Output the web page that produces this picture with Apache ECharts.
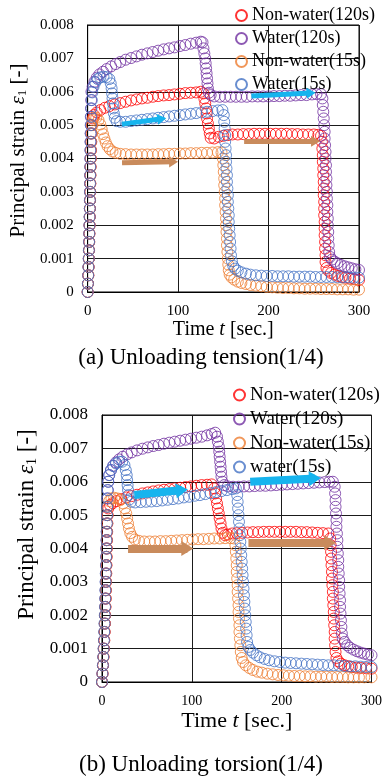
<!DOCTYPE html>
<html>
<head>
<meta charset="utf-8">
<script src="https://cdn.jsdelivr.net/npm/echarts@6.0.0/dist/echarts.min.js"></script>
<style>
  html, body { margin: 0; padding: 0; background: #fff; }
  #chart { width: 385px; height: 778px; }
</style>
</head>
<body>
<div id="chart"></div>
<script>
// strain values are in units of 1e-3, time in seconds
const xTicks = [0, 100, 200, 300]
const names = ['Non-water(120s)', 'Water(120s)', 'Non-water(15s)', 'Water(15s)']
const namesB = ['Non-water(120s)', 'Water(120s)', 'Non-water(15s)', 'water(15s)']
const captions = ['(a) Unloading tension(1/4)', '(b) Unloading torsion(1/4)']

// (a) Unloading tension
const aNonWater120 = [[0,0],[0.4,0.25],[0.8,0.5],[1.1,0.75],[1.4,1.0],[1.6,1.25],[1.8,1.5],[2.0,1.75],[2.2,2.0],[2.4,2.25],[2.6,2.5],[2.7,2.75],[2.9,3.0],[3.0,3.25],[3.1,3.5],[3.3,3.75],[3.5,4.0],[3.7,4.25],[4.0,4.5],[4.3,4.75],[4.8,5.0],[5.5,5.2],
  [7,5.3],[10,5.38],[14,5.45],[19,5.52],[24,5.57],[30,5.62],[36,5.66],[42,5.7],[48,5.74],[54,5.77],[60,5.8],[66,5.82],[72,5.85],[78,5.87],[84,5.89],[90,5.9],[96,5.92],[102,5.94],[108,5.96],[114,5.97],[120,5.98],[125,6.0],
  [128,5.95],[129,5.8],[130,5.65],[131,5.5],[131.5,5.35],[132,5.2],[133,5.05],[134,4.9],[135,4.75],[136,4.62],
  [140,4.6],[145,4.65],[150,4.68],[155,4.7],[160,4.72],[166,4.72],[172,4.73],[178,4.73],[184,4.74],[190,4.74],[196,4.74],[202,4.74],[208,4.74],[214,4.74],[220,4.74],[226,4.73],[232,4.73],[238,4.72],[244,4.72],[250,4.72],[255,4.71],[258,4.68],
  [259,4.5],[259.5,4.3],[260,4.1],[260,3.9],[260.5,3.7],[260.5,3.5],[261,3.3],[261,3.1],[261,2.9],[261.5,2.7],[261.5,2.5],[261.5,2.3],[262,2.1],[262,1.9],[262,1.7],[262.5,1.5],[262.5,1.3],[263,1.1],[263,0.9],[264,0.72],
  [266,0.64],[269,0.57],[273,0.52],[277,0.48],[281,0.45],[285,0.43],[290,0.4],[295,0.38],[300,0.36]]
const aWater120 = [[0,0],[0.3,0.25],[0.6,0.5],[0.9,0.75],[1.2,1.0],[1.4,1.25],[1.6,1.5],[1.8,1.75],[2.0,2.0],[2.2,2.25],[2.4,2.5],[2.5,2.75],[2.6,3.0],[2.7,3.25],[2.8,3.5],[2.9,3.75],[3.0,4.0],[3.1,4.25],[3.2,4.5],[3.3,4.75],[3.4,5.0],[3.5,5.25],[3.7,5.5],[3.9,5.75],[4.2,6.0],
  [5.5,6.15],[7.5,6.3],[10,6.42],[13,6.52],[17,6.6],[21,6.68],[26,6.76],[31,6.83],[36,6.89],[42,6.96],[48,7.01],[54,7.06],[60,7.11],[66,7.15],[72,7.19],[78,7.23],[84,7.27],[90,7.3],[96,7.33],[102,7.37],[108,7.4],[114,7.44],[120,7.47],[125,7.5],[127,7.48],
  [128,7.3],[129,7.15],[130,7.0],[130.5,6.85],[131,6.7],[131.5,6.55],[132,6.4],[132.5,6.25],[133,6.1],[134,5.97],[136,5.9],
  [140,5.86],[146,5.85],[152,5.85],[158,5.85],[164,5.85],[170,5.85],[176,5.85],[182,5.86],[188,5.86],[194,5.86],[200,5.86],[206,5.87],[212,5.87],[218,5.88],[224,5.88],[230,5.89],[236,5.9],[242,5.9],[248,5.92],[253,5.93],[258,5.93],
  [259.5,5.8],[260,5.6],[260.5,5.4],[261,5.2],[261.5,5.0],[262,4.8],[262,4.6],[262.5,4.4],[263,4.2],[263,4.0],[263.5,3.8],[263.5,3.6],[264,3.4],[264,3.2],[264.5,3.0],[264.5,2.8],[265,2.6],[265,2.4],[265.5,2.2],[265.5,2.0],[266,1.8],[266,1.6],[266.5,1.4],[267,1.2],[268,1.05],
  [270,0.97],[273,0.91],[276,0.86],[280,0.81],[284,0.77],[288,0.74],[292,0.71],[296,0.68],[300,0.66]]
const aNonWater15 = [[0,0],[0.4,0.25],[0.7,0.5],[1.0,0.75],[1.3,1.0],[1.5,1.25],[1.7,1.5],[1.9,1.75],[2.1,2.0],[2.3,2.25],[2.5,2.5],[2.6,2.75],[2.8,3.0],[2.9,3.25],[3.0,3.5],[3.2,3.75],[3.4,4.0],[3.6,4.25],[3.9,4.5],[4.2,4.75],[4.6,5.0],[5.5,5.15],
  [7,5.22],[9.5,5.22],[12,5.15],[14,5.02],[15.5,4.88],[17,4.73],[18.5,4.6],[20,4.48],[22,4.37],[24.5,4.28],[27.5,4.21],[31,4.17],
  [36,4.14],[42,4.13],[48,4.12],[54,4.12],[60,4.12],[66,4.12],[72,4.12],[78,4.13],[84,4.13],[90,4.14],[96,4.14],[102,4.15],[108,4.15],[114,4.16],[120,4.16],[126,4.17],[132,4.17],[138,4.18],[144,4.19],[148,4.18],
  [149.5,4.0],[150,3.8],[150.5,3.6],[151,3.4],[151,3.2],[151.5,3.0],[152,2.8],[152,2.6],[152.5,2.4],[153,2.2],[153,2.0],[153.5,1.8],[154,1.6],[154,1.4],[154.5,1.2],[155,1.0],[155.5,0.82],[156,0.65],[157,0.52],
  [159,0.44],[162,0.37],[166,0.31],[170,0.27],[175,0.24],[180,0.21],[186,0.19],[192,0.17],[198,0.15],[204,0.14],[210,0.13],[216,0.12],[222,0.12],[228,0.11],[234,0.11],[240,0.1],[246,0.1],[252,0.1],[258,0.09],[264,0.09],[270,0.09],[276,0.08],[282,0.08],[288,0.08],[294,0.07],[300,0.07]]
const aWater15 = [[0,0],[0.3,0.25],[0.6,0.5],[0.9,0.75],[1.2,1.0],[1.4,1.25],[1.6,1.5],[1.8,1.75],[2.0,2.0],[2.2,2.25],[2.4,2.5],[2.5,2.75],[2.6,3.0],[2.7,3.25],[2.8,3.5],[2.9,3.75],[3.0,4.0],[3.1,4.25],[3.3,4.5],[3.5,4.75],[3.7,5.0],[3.9,5.25],[4.2,5.5],[4.6,5.75],[5.2,5.98],
  [6.5,6.15],[8.5,6.28],[11,6.38],[14,6.43],[17.5,6.45],[21,6.44],[24,6.38],
  [25.5,6.25],[26.5,6.1],[27,5.95],[27.5,5.8],[28,5.65],[28.5,5.5],[29,5.35],[30,5.22],[32,5.12],
  [36,5.1],[42,5.1],[48,5.12],[54,5.14],[60,5.16],[66,5.18],[72,5.2],[78,5.22],[84,5.24],[90,5.26],[96,5.28],[102,5.3],[108,5.32],[114,5.34],[120,5.36],[126,5.38],[132,5.4],[138,5.42],[144,5.44],[149,5.45],
  [150.5,5.3],[151,5.1],[151.5,4.9],[152,4.7],[152,4.5],[152.5,4.3],[153,4.1],[153,3.9],[153.5,3.7],[154,3.5],[154,3.3],[154.5,3.1],[155,2.9],[155,2.7],[155.5,2.5],[156,2.3],[156,2.1],[156.5,1.9],[157,1.7],[157.5,1.5],[158,1.3],[158.5,1.1],[159.5,0.92],[161,0.78],
  [163,0.7],[166,0.64],[170,0.59],[175,0.55],[180,0.52],[186,0.5],[192,0.49],[198,0.48],[204,0.48],[210,0.47],[216,0.47],[222,0.47],[228,0.46],[234,0.46],[240,0.46],[246,0.46],[252,0.45],[258,0.45],[264,0.45],[270,0.45],[276,0.44],[282,0.44],[288,0.44],[294,0.43],[300,0.43]]

// (b) Unloading torsion
const bNonWater120 = [[0,0],[0.6,0.25],[1.2,0.5],[1.7,0.75],[2.2,1.0],[2.6,1.25],[3.0,1.5],[3.3,1.75],[3.6,2.0],[3.9,2.25],[4.2,2.5],[4.4,2.75],[4.6,3.0],[4.8,3.25],[5.0,3.5],[5.2,3.75],[5.4,4.0],[5.6,4.25],[5.8,4.5],[6.0,4.75],[6.3,5.0],[7,5.2],
  [9,5.3],[12,5.36],[16,5.42],[21,5.48],[27,5.53],[33,5.57],[39,5.61],[45,5.65],[51,5.68],[57,5.71],[63,5.74],[69,5.76],[75,5.78],[81,5.8],[87,5.82],[93,5.84],[99,5.86],[105,5.88],[111,5.9],[117,5.91],[122,5.92],
  [125,5.8],[126,5.65],[127,5.5],[128,5.35],[129,5.2],[130,5.05],[131,4.9],[132,4.75],[133,4.6],[134.5,4.47],[137,4.4],
  [140,4.42],[145,4.45],[150,4.46],[156,4.47],[162,4.48],[168,4.49],[174,4.49],[180,4.5],[186,4.5],[192,4.5],[198,4.5],[204,4.5],[210,4.5],[216,4.5],[222,4.49],[228,4.49],[234,4.48],[240,4.47],[246,4.46],[252,4.45],
  [254,4.3],[254.5,4.1],[255,3.9],[255,3.7],[255.5,3.5],[256,3.3],[256,3.1],[256.5,2.9],[257,2.7],[257,2.5],[257.5,2.3],[258,2.1],[258,1.9],[258.5,1.7],[259,1.5],[259,1.3],[259.5,1.1],[260,0.9],[261,0.72],
  [263,0.62],[266,0.55],[270,0.5],[274,0.47],[278,0.45],[283,0.43],[288,0.42],[294,0.41],[300,0.4]]
const bWater120 = [[0,0],[0.5,0.25],[1.0,0.5],[1.5,0.75],[1.9,1.0],[2.3,1.25],[2.7,1.5],[3.0,1.75],[3.3,2.0],[3.6,2.25],[3.8,2.5],[4.0,2.75],[4.2,3.0],[4.4,3.25],[4.6,3.5],[4.8,3.75],[5.0,4.0],[5.2,4.25],[5.4,4.5],[5.6,4.75],[5.8,5.0],[6.0,5.25],[6.2,5.5],[6.5,5.75],[7,6.0],
  [8,6.2],[10,6.35],[12.5,6.48],[15.5,6.58],[19,6.67],[23,6.75],[28,6.82],[33,6.88],[39,6.94],[45,6.99],[51,7.03],[57,7.07],[63,7.1],[69,7.14],[75,7.17],[81,7.2],[87,7.23],[93,7.26],[99,7.29],[105,7.32],[111,7.35],[117,7.39],[122,7.43],[126,7.47],
  [128,7.35],[129,7.2],[130,7.05],[130.5,6.9],[131,6.75],[131.5,6.6],[132,6.45],[132.5,6.3],[133,6.15],[134,6.0],[136,5.9],
  [140,5.86],[146,5.85],[152,5.85],[158,5.86],[164,5.86],[170,5.87],[176,5.88],[182,5.88],[188,5.89],[194,5.9],[200,5.91],[206,5.92],[212,5.93],[218,5.94],[224,5.95],[230,5.96],[236,5.97],[242,5.98],[248,5.99],[253,6.0],[257,6.0],
  [259,5.85],[259.5,5.65],[260,5.45],[260,5.25],[260.5,5.05],[261,4.85],[261,4.65],[261.5,4.45],[262,4.25],[262,4.05],[262.5,3.85],[263,3.65],[263,3.45],[263.5,3.25],[264,3.05],[264,2.85],[264.5,2.65],[265,2.45],[265,2.25],[265.5,2.05],[266,1.85],[266.5,1.65],[267,1.45],[268,1.3],
  [270,1.2],[273,1.1],[276,1.03],[280,0.97],[284,0.92],[288,0.88],[292,0.85],[296,0.82],[300,0.8]]
const bNonWater15 = [[0,0],[0.6,0.25],[1.1,0.5],[1.6,0.75],[2.0,1.0],[2.4,1.25],[2.8,1.5],[3.1,1.75],[3.4,2.0],[3.7,2.25],[4.0,2.5],[4.2,2.75],[4.4,3.0],[4.6,3.25],[4.8,3.5],[5.0,3.75],[5.2,4.0],[5.4,4.25],[5.6,4.5],[5.8,4.75],[6.1,5.0],[6.6,5.25],
  [8,5.42],[10.5,5.5],[13.5,5.52],[17,5.5],[20.5,5.45],[23.5,5.35],[25.5,5.2],[27,5.05],[28,4.9],[29,4.75],[30,4.6],[31.5,4.46],[33.5,4.35],[36.5,4.27],
  [41,4.23],[47,4.21],[53,4.21],[59,4.21],[65,4.22],[71,4.22],[77,4.23],[83,4.24],[89,4.25],[95,4.26],[101,4.27],[107,4.28],[113,4.28],[119,4.29],[125,4.3],[131,4.3],[137,4.31],[143,4.31],[147,4.3],
  [148.5,4.1],[149,3.9],[149.5,3.7],[150,3.5],[150,3.3],[150.5,3.1],[151,2.9],[151,2.7],[151.5,2.5],[152,2.3],[152,2.1],[152.5,1.9],[153,1.7],[153,1.5],[153.5,1.3],[154,1.1],[154.5,0.9],[155.5,0.72],[157,0.6],
  [160,0.5],[164,0.42],[168,0.36],[173,0.31],[178,0.28],[184,0.25],[190,0.23],[196,0.21],[202,0.2],[208,0.19],[214,0.18],[220,0.18],[226,0.17],[232,0.17],[238,0.16],[244,0.16],[250,0.16],[256,0.15],[262,0.15],[268,0.15],[274,0.14],[280,0.14],[286,0.14],[292,0.14],[300,0.14]]
const bWater15 = [[0,0],[0.5,0.25],[1.0,0.5],[1.4,0.75],[1.8,1.0],[2.2,1.25],[2.5,1.5],[2.8,1.75],[3.1,2.0],[3.4,2.25],[3.6,2.5],[3.8,2.75],[4.0,3.0],[4.2,3.25],[4.4,3.5],[4.6,3.75],[4.8,4.0],[5.0,4.25],[5.2,4.5],[5.4,4.75],[5.6,5.0],[5.8,5.25],[6.0,5.5],[6.3,5.75],[6.8,6.0],
  [8,6.2],[10,6.35],[12.5,6.47],[15.5,6.55],[19,6.6],[22.5,6.6],[25,6.5],
  [26.5,6.35],[27.5,6.2],[28,6.05],[28.5,5.9],[29,5.75],[29.5,5.6],[30.5,5.47],[32.5,5.4],
  [37,5.38],[43,5.39],[49,5.4],[55,5.41],[61,5.42],[67,5.44],[73,5.46],[79,5.48],[85,5.5],[91,5.53],[97,5.55],[103,5.58],[109,5.6],[115,5.63],[121,5.66],[127,5.69],[133,5.72],[139,5.75],[145,5.78],[149,5.8],
  [150.5,5.6],[151,5.4],[151.5,5.2],[152,5.0],[152.5,4.8],[153,4.6],[153.5,4.4],[154,4.2],[154.5,4.0],[155,3.8],[155.5,3.6],[156,3.4],[156.5,3.2],[157,3.0],[157.5,2.8],[158,2.6],[158.5,2.4],[159,2.2],[159.5,2.0],[160,1.8],[160.5,1.6],[161,1.4],[161.5,1.2],[163,1.05],
  [165,0.96],[168,0.88],[172,0.8],[176,0.74],[181,0.69],[186,0.65],[192,0.62],[198,0.6],[204,0.58],[210,0.57],[216,0.56],[222,0.55],[228,0.54],[234,0.53],[240,0.52],[246,0.51],[252,0.5],[258,0.5],[264,0.49],[270,0.48],[276,0.47],[282,0.47],[288,0.46],[294,0.45],[300,0.45]]

// arrows: [tail, tip] in data units
const aArrowsBlue = [[[38, 5.03], [82, 5.19]], [[181, 5.87], [247, 5.96]]]
const aArrowsBrown = [[[38, 3.87], [95, 3.9]], [[173, 4.52], [252, 4.52]]]
const bArrowsBlue = [[[36, 5.6], [89, 5.75]], [[165, 6.0], [237, 6.1]]]
const bArrowsBrown = [[[29, 4.0], [95, 4.0]], [[163, 4.17], [254, 4.17]]]

const colors = ['#ff0000', '#7030a0', '#ed7d31', '#4472c4']
const FONT = '"Liberation Serif", "Times New Roman", serif'

const chart = echarts.init(document.getElementById('chart'), null, { renderer: 'canvas' })

function scatter(name, data, color, idx) {
  return {
    name: name,
    type: 'scatter',
    xAxisIndex: idx,
    yAxisIndex: idx,
    data: data,
    symbol: 'circle',
    symbolSize: 11,
    itemStyle: { color: 'transparent', borderColor: color, borderWidth: 1 },
    silent: true
  }
}

function arrows(blue, brown, w, head) {
  const make = (list, color) => list.map(a => [
    { coord: a[0], lineStyle: { color: color, width: w } },
    { coord: a[1], lineStyle: { color: color, width: w } }
  ])
  return {
    silent: true,
    symbol: ['none', 'triangle'],
    symbolSize: head,
    label: { show: false },
    lineStyle: { type: 'solid', opacity: 1 },
    data: make(blue, '#16b4ee').concat(make(brown, '#c98b5c'))
  }
}

function xAxis(idx, labelSize, nameSize) {
  return {
    gridIndex: idx,
    type: 'value',
    min: 0, max: 300, interval: 100,
    name: 'Time {i|t} [sec.]',
    nameLocation: 'middle',
    nameGap: 28,
    nameTextStyle: { fontFamily: FONT, fontSize: nameSize, color: '#000',
      rich: { i: { fontFamily: FONT, fontSize: nameSize, fontStyle: 'italic', color: '#000' } } },
    axisLine: { show: true, lineStyle: { color: '#000', width: 1 } },
    axisTick: { show: false },
    axisLabel: { fontFamily: FONT, fontSize: labelSize, color: '#000', margin: 12,
      formatter: v => xTicks.includes(v) ? String(v) : '' },
    splitLine: { show: true, lineStyle: { color: '#1a1a1a', width: 1 } }
  }
}

function yAxis(idx, labelSize, nameSize, shift, gap) {
  return {
    gridIndex: idx,
    type: 'value',
    min: 0, max: 8, interval: 1,
    name: 'Principal strain {e|ε}{s|1} [-]',
    nameLocation: 'middle',
    nameRotate: 90,
    nameGap: gap,
    nameTextStyle: { fontFamily: FONT, fontSize: nameSize, color: '#000', padding: [0, 0, 0, shift],
      rich: {
        e: { fontFamily: FONT, fontSize: nameSize, fontStyle: 'italic', color: '#000' },
        s: { fontFamily: FONT, fontSize: Math.round(nameSize * 0.62), color: '#000', verticalAlign: 'bottom', padding: [8, 0, 0, 0] }
      } },
    axisLine: { show: true, lineStyle: { color: '#000', width: 1 } },
    axisTick: { show: false },
    axisLabel: { fontFamily: FONT, fontSize: labelSize, color: '#000', margin: 14,
      formatter: v => v === 0 ? '0' : (v / 1000).toFixed(3) },
    splitLine: { show: true, lineStyle: { color: '#1a1a1a', width: 1 } }
  }
}

function legend(list, top, left, size) {
  return {
    data: list,
    orient: 'vertical',
    top: top,
    left: left,
    padding: 0,
    itemGap: 2,
    itemWidth: 11,
    itemHeight: 11,
    itemTextGap: 4,
    icon: 'circle',
    selectedMode: false,
    textStyle: { fontFamily: FONT, fontSize: size, color: '#000', lineHeight: size + 3 }
  }
}

const seriesA = [aNonWater120, aWater120, aNonWater15, aWater15].map((d, i) => scatter(names[i], d, colors[i], 0))
const seriesB = [bNonWater120, bWater120, bNonWater15, bWater15].map((d, i) => scatter(namesB[i], d, colors[i], 1))
seriesA[3].markLine = arrows(aArrowsBlue, aArrowsBrown, 5, [11, 9])
seriesB[3].markLine = arrows(bArrowsBlue, bArrowsBrown, 8, [15, 12])

const option = {
  backgroundColor: '#fff',
  animation: false,
  grid: [
    { left: 83, top: 25, width: 276, height: 267, show: true, borderColor: '#000', borderWidth: 1, backgroundColor: 'transparent' },
    { left: 102, top: 415, width: 272, height: 267, show: true, borderColor: '#000', borderWidth: 1, backgroundColor: 'transparent' }
  ],
  xAxis: [xAxis(0, 15, 20), xAxis(1, 14, 22)],
  yAxis: [yAxis(0, 15, 21, 16, 54), yAxis(1, 17, 23, 48, 58)],
  legend: [legend(names, 5, 235, 18), legend(namesB, 384, 233, 19)],
  graphic: [
    { type: 'text', x: 201, y: 358, style: { text: captions[0], font: '23px ' + FONT, fill: '#000', textAlign: 'center', textVerticalAlign: 'middle' } },
    { type: 'text', x: 201, y: 765, style: { text: captions[1], font: '23px ' + FONT, fill: '#000', textAlign: 'center', textVerticalAlign: 'middle' } }
  ],
  series: seriesA.concat(seriesB)
}

chart.setOption(option)
window.addEventListener('resize', () => chart.resize())
</script>
</body>
</html>
